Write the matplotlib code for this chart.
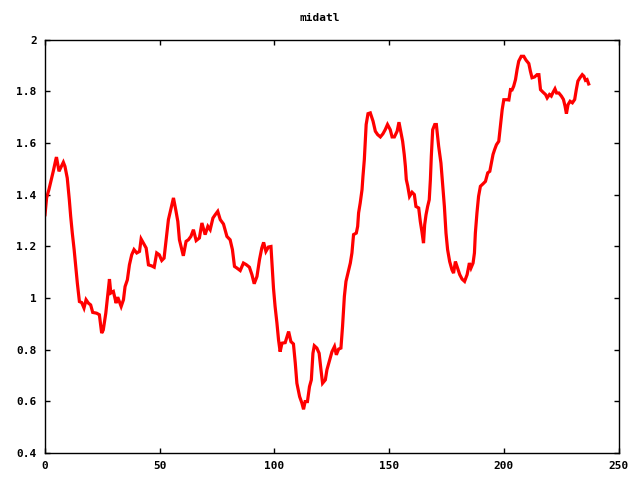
import matplotlib
matplotlib.use("Agg")
import matplotlib.pyplot as plt

# values (x index, midatl value)
x = [0, 0.7, 1.7, 2.9, 3.6, 4.7, 5.0, 6.1, 6.8, 8.0, 8.7, 9.7, 10.6, 11.2, 11.9,
     12.7, 13.4, 14.1, 15.0, 16.0, 17.0, 17.9, 18.9, 19.9, 20.8, 22.5, 23.7, 24.7,
     25.4, 26.5, 27.3, 28.1, 28.7, 29.8, 31.0, 31.7, 33.2, 34.2, 34.9, 35.9, 36.8,
     37.8, 38.8, 40.0, 41.2, 41.9, 42.9, 44.1, 45.1, 46.5, 47.6, 48.7, 49.8, 50.9,
     51.9, 52.8, 53.8, 54.8, 56.0, 57.0, 57.9, 58.6, 60.3, 61.5, 62.5, 63.6, 64.7,
     65.9, 67.3, 68.4, 69.8, 71.0, 72.0, 73.2, 74.2, 75.3, 76.4, 77.8, 79.3, 80.7,
     81.7, 82.6, 83.6, 85.1, 86.5, 87.7, 89.1, 90.2, 91.2, 92.4, 93.5, 94.5, 95.3,
     96.3, 97.4, 98.5, 99.1, 99.6, 100.3, 101.1, 101.8, 102.5, 103.3, 104.7, 106.2,
     107.2, 108.3, 109.1, 109.8, 111.0, 112.0, 112.7, 113.4, 114.4, 115.3, 116.1,
     116.8, 117.4, 118.5, 119.5, 120.3, 121.0, 122.2, 122.9, 123.9, 125.1, 126.2,
     127.0, 128.0, 129.0, 129.7, 130.5, 131.2, 132.4, 133.1, 133.8, 134.5, 135.7,
     136.3, 136.7, 137.4, 138.2, 138.6, 139.2, 139.6, 140.0, 140.8, 141.8, 143.0,
     144.0, 145.0, 146.2, 147.3, 148.3, 149.3, 150.5, 151.3, 152.3, 153.5, 154.3,
     155.2, 155.9, 156.6, 157.1, 157.5, 158.1, 158.9, 160.0, 161.0, 161.7, 162.9,
     163.6, 164.3, 165.0, 165.5, 166.1, 166.8, 167.5, 168.0, 168.4, 169.0, 169.9,
     170.6, 171.6, 172.6, 173.3, 174.1, 174.8, 175.5, 176.4, 177.4, 178.1, 178.9,
     179.6, 180.8, 181.8, 182.9, 184.0, 185.0, 185.7, 186.6, 187.2, 187.6, 188.3,
     189.0, 189.8, 191.0, 192.0, 193.0, 193.9, 194.6, 195.3, 196.0, 196.8, 197.8,
     198.5, 199.3, 200.0, 201.4, 202.2, 202.9, 203.6, 204.3, 205.1, 205.8, 206.5,
     207.6, 208.7, 209.7, 210.9, 211.6, 212.3, 213.4, 214.5, 215.3, 216.0, 217.1,
     218.2, 218.9, 219.9, 220.7, 221.5, 222.3, 223.0, 224.0, 225.1, 226.0, 226.7,
     227.3, 228.0, 228.9, 229.9, 230.9, 231.6, 232.3, 233.2, 234.2, 234.9, 235.6,
     236.3, 237.0]
midatl = [1.322, 1.387, 1.419, 1.464, 1.49, 1.535, 1.545, 1.49, 1.503, 1.525, 1.509,
          1.464, 1.38, 1.315, 1.251, 1.187, 1.122, 1.057, 0.986, 0.982, 0.961, 0.993,
          0.98, 0.973, 0.944, 0.941, 0.935, 0.864, 0.876, 0.941, 1.006, 1.073, 1.019,
          1.025, 0.98, 1.003, 0.967, 0.993, 1.044, 1.07, 1.128, 1.167, 1.187, 1.174,
          1.18, 1.228, 1.212, 1.193, 1.128, 1.124, 1.119, 1.174, 1.167, 1.145, 1.154,
          1.225, 1.303, 1.341, 1.387, 1.341, 1.296, 1.225, 1.163, 1.219, 1.225, 1.238,
          1.264, 1.222, 1.232, 1.29, 1.245, 1.277, 1.264, 1.309, 1.322, 1.335, 1.303,
          1.286, 1.238, 1.225, 1.187, 1.122, 1.116, 1.106, 1.135, 1.129, 1.119, 1.09,
          1.055, 1.083, 1.148, 1.193, 1.215, 1.18, 1.197, 1.199, 1.109, 1.038, 0.967,
          0.903, 0.838, 0.792, 0.825, 0.827, 0.87, 0.831, 0.822, 0.748, 0.67, 0.618,
          0.593, 0.569, 0.599, 0.599, 0.657, 0.683, 0.786, 0.815, 0.806, 0.786, 0.722,
          0.67, 0.683, 0.722, 0.754, 0.792, 0.812, 0.78, 0.802, 0.806, 0.889, 1.006,
          1.064, 1.109, 1.135, 1.174, 1.245, 1.251, 1.277, 1.329, 1.367, 1.419, 1.47,
          1.535, 1.6, 1.671, 1.713, 1.716, 1.684, 1.645, 1.632, 1.623, 1.635, 1.651,
          1.671, 1.651, 1.623, 1.623, 1.645, 1.68, 1.639, 1.606, 1.555, 1.509, 1.458,
          1.434, 1.393, 1.409, 1.4, 1.354, 1.348, 1.296, 1.257, 1.212, 1.283, 1.322,
          1.354, 1.38, 1.458, 1.548, 1.651, 1.671, 1.671, 1.587, 1.522, 1.445, 1.354,
          1.251, 1.187, 1.141, 1.109, 1.096, 1.141, 1.122, 1.09, 1.073, 1.064, 1.09,
          1.135, 1.116, 1.135, 1.174, 1.251, 1.329, 1.393, 1.432, 1.442, 1.451, 1.484,
          1.49, 1.522, 1.555, 1.574, 1.593, 1.606, 1.664, 1.729, 1.767, 1.767, 1.766,
          1.806, 1.805, 1.819, 1.845, 1.884, 1.916, 1.935, 1.935, 1.92, 1.907, 1.877,
          1.852, 1.855, 1.864, 1.864, 1.806, 1.796, 1.787, 1.774, 1.787, 1.781, 1.796,
          1.809, 1.793, 1.793, 1.781, 1.768, 1.742, 1.713, 1.748, 1.761, 1.755, 1.768,
          1.806, 1.839, 1.852, 1.864, 1.858, 1.842, 1.845, 1.828]

xticks = [0, 50, 100, 150, 200, 250]
yticks = [0.4, 0.6, 0.8, 1.0, 1.2, 1.4, 1.6, 1.8, 2.0]
ytick_labels = ['0.4', '0.6', '0.8', '1', '1.2', '1.4', '1.6', '1.8', '2']

plt.rcParams['font.family'] = ['DejaVu Sans Mono']

fig = plt.figure(figsize=(6.4, 4.8), dpi=100)
ax = fig.add_axes([45 / 640, 1 - 453 / 480, 573.5 / 640, 413.5 / 480])

ax.plot(x, midatl, color='#ff0000', linewidth=2.3, solid_joinstyle='miter')

ax.set_xlim(0, 250)
ax.set_ylim(0.4, 2.0)
ax.set_xticks(xticks)
ax.set_yticks(yticks)
ax.set_yticklabels(ytick_labels)
ax.tick_params(direction='in', length=3.5, width=1, top=True, right=True,
               labelsize=8, pad=6)
for lbl in ax.get_xticklabels() + ax.get_yticklabels():
    lbl.set_fontweight('bold')
for s in ax.spines.values():
    s.set_linewidth(1)

fig.text(0.5, 1 - 18 / 480, 'midatl', ha='center', va='center',
         fontsize=8, fontweight='bold')

fig.savefig('out.png', dpi=100)
